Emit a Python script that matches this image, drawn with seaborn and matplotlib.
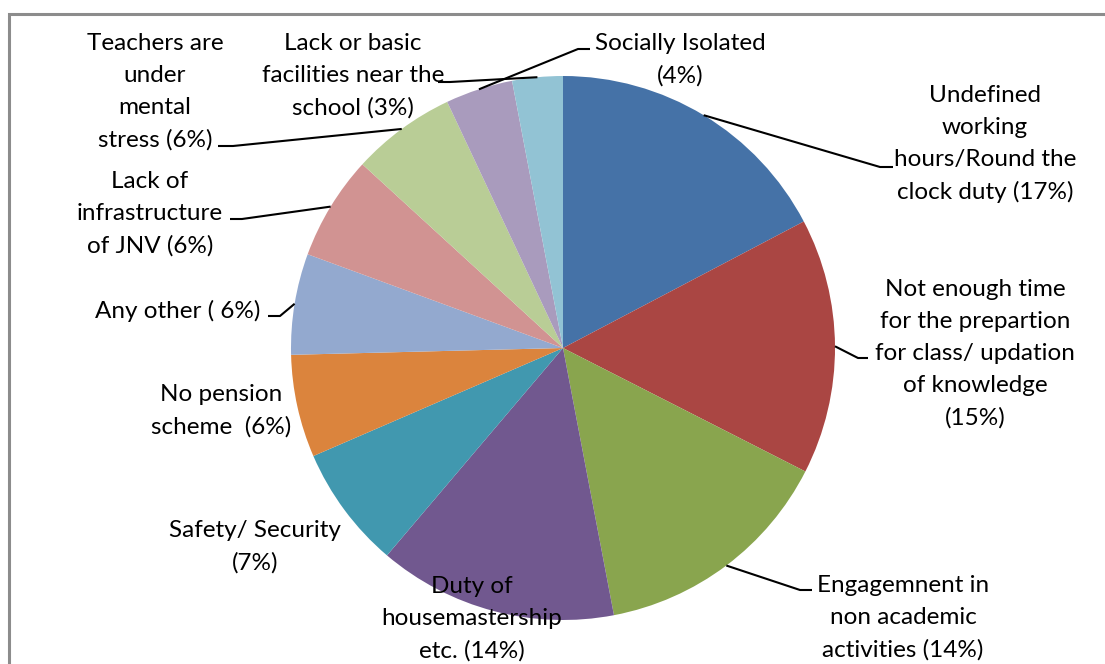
import matplotlib
matplotlib.use("Agg")
import matplotlib.pyplot as plt
import seaborn as sns
from matplotlib.patches import Rectangle
import numpy as np

# ---- data ----
categories = [
    "Undefined working hours/Round the clock duty",
    "Not enough time for the prepartion for class/ updation of knowledge",
    "Engagemnent in non academic activities",
    "Duty of housemastership etc.",
    "Safety/ Security",
    "No pension scheme",
    "Any other",
    "Lack of infrastructure of JNV",
    "Teachers are under mental stress",
    "Socially Isolated",
    "Lack or basic facilities near the school",
]
values = [17.3, 15.2, 14.5, 14.2, 7.3, 6.1, 6.0, 6.2, 6.2, 4.0, 3.0]
label_texts = [
    "Undefined\nworking\nhours/Round the\nclock duty (17%)",
    "Not enough time\nfor the prepartion\nfor class/ updation\nof knowledge\n(15%)",
    "Engagemnent in\nnon academic\nactivities (14%)",
    "Duty of\nhousemastership\netc. (14%)",
    "Safety/ Security\n(7%)",
    "No pension\nscheme  (6%)",
    "Any other ( 6%)",
    "Lack of\ninfrastructure\nof JNV (6%)",
    "Teachers are\nunder\nmental\nstress (6%)",
    "Socially Isolated\n(4%)",
    "Lack or basic\nfacilities near the\nschool (3%)",
]
colors_hex = ["#4572A7", "#AA4643", "#89A54E", "#71588F", "#4198AF", "#DB843D",
              "#93A9CF", "#D19392", "#B9CD96", "#A99BBD", "#92C3D4"]

# ---- layout (pixel coords, y measured from top) ----
# text centre, elbow point, end of horizontal stub (None = no leader)
label_layout = [
    ((985, 144), (880, 167), (893, 167)),
    ((975, 354), (858, 358), (868, 358)),
    ((903, 618), (800, 590), (812, 590)),
    ((472, 619), None, None),
    ((255, 547), None, None),
    ((221, 411), None, None),
    ((178, 311), (280, 316), (268, 316)),
    ((150, 214), (242, 219), (230, 219)),
    ((155, 92), (233, 146), (218, 146)),
    ((680, 60), (578, 49), (590, 49)),
    ((353, 76), (450, 82), (438, 82)),
]

sns.set_theme(style="white")
plt.rcParams['font.family'] = ['Lato', 'DejaVu Sans']

W, H = 1105, 664
fig = plt.figure(figsize=(W / 100, H / 100), dpi=100)
ax = fig.add_axes([0, 0, 1, 1])

cx, cy, R = 563, H - 348, 272
wedges, _ = ax.pie(values, colors=sns.color_palette(colors_hex), startangle=90,
                   counterclock=False, center=(cx, cy), radius=R,
                   wedgeprops=dict(linewidth=0), frame=False)
ax.set_xlim(0, W)
ax.set_ylim(0, H)
ax.set_aspect('equal')
ax.axis('off')

for w, txt, (tpos, elbow, stub) in zip(wedges, label_texts, label_layout):
    ax.text(tpos[0], H - tpos[1], txt, ha='center', va='center',
            multialignment='center', fontsize=17.5, color='black',
            linespacing=1.65, zorder=5)
    if elbow is not None:
        mid = np.deg2rad((w.theta1 + w.theta2) / 2)
        ex, ey = cx + R * np.cos(mid), cy + R * np.sin(mid)
        ax.plot([ex, elbow[0], stub[0]], [ey, H - elbow[1], H - stub[1]],
                color='black', lw=1.5, solid_capstyle='butt', zorder=4)

ax.add_patch(Rectangle((9, -50), 1300, (H - 14) + 50, fill=False,
                       edgecolor='#8c8c8c', lw=2.2, zorder=6))

fig.savefig("out.png", dpi=100)
